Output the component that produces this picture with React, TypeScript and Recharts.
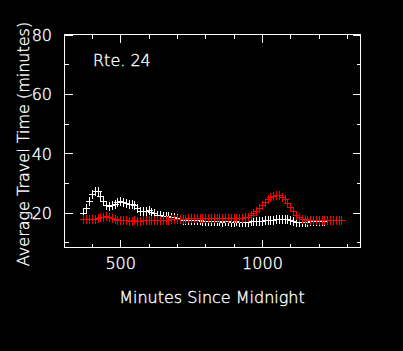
import { ScatterChart, Scatter, XAxis, YAxis } from "recharts";

// minutes since midnight (one sample every 10 min)
const minutes = [
  370, 380, 390, 400, 410, 420, 430, 440, 450, 460, 470, 480, 490, 500, 510, 520, 530, 540, 550, 560,
  570, 580, 590, 600, 610, 620, 630, 640, 650, 660, 670, 680, 690, 700, 710, 720, 730, 740, 750, 760,
  770, 780, 790, 800, 810, 820, 830, 840, 850, 860, 870, 880, 890, 900, 910, 920, 930, 940, 950, 960,
  970, 980, 990, 1000, 1010, 1020, 1030, 1040, 1050, 1060, 1070, 1080, 1090, 1100, 1110, 1120, 1130, 1140, 1150, 1160,
  1170, 1180, 1190, 1200, 1210, 1220, 1230, 1240, 1250, 1260, 1270, 1280,
];

// white series
const whiteTimes = [
  20.0, 21.6, 23.8, 26.2, 27.4, 27.2, 25.8, 23.8, 22.6, 22.4, 22.7, 23.1, 23.5, 23.8, 23.7, 23.4, 23.1, 22.9, 22.6, 21.6,
  20.6, 20.5, 20.7, 20.8, 20.4, 19.8, 19.4, 19.2, 19.0, 18.9, 18.8, 18.6, 18.4, 18.3, 18.0, 17.7, 17.6, 17.5, 17.5, 17.4,
  17.4, 17.4, 17.3, 17.3, 17.2, 17.2, 17.1, 17.1, 17.1, 17.0, 17.1, 17.1, 17.0, 17.0, 17.1, 17.0, 17.0, 17.0, 17.0, 17.1,
  17.1, 17.2, 17.2, 17.3, 17.4, 17.5, 17.6, 17.7, 17.8, 17.9, 18.0, 18.0, 17.8, 17.5, 17.2, 17.0, 16.9, 16.9, 17.0, 17.0,
  17.1, 17.1, 17.2, 17.2, 17.3, 17.3, 17.4, 17.5, 17.6, 17.6, 17.7, 17.7,
];

// red series
const redTimes = [
  17.8, 17.8, 17.8, 17.9, 18.0, 18.1, 18.4, 18.7, 18.8, 18.6, 18.2, 17.9, 17.6, 17.5, 17.4, 17.4, 17.3, 17.3, 17.4, 17.3,
  17.3, 17.4, 17.4, 17.4, 17.5, 17.5, 17.5, 17.6, 17.6, 17.7, 17.7, 17.8, 17.8, 17.9, 17.9, 18.0, 18.0, 18.1, 18.1, 18.2,
  18.2, 18.3, 18.3, 18.3, 18.3, 18.3, 18.3, 18.3, 18.3, 18.3, 18.3, 18.3, 18.3, 18.3, 18.3, 18.3, 18.3, 18.4, 18.7, 19.2,
  19.8, 20.6, 21.7, 22.7, 23.7, 24.6, 25.3, 25.8, 26.1, 26.0, 25.4, 24.5, 23.2, 21.8, 20.5, 19.4, 18.5, 18.0, 17.8, 17.7,
  17.7, 17.7, 17.7, 17.7, 17.7, 17.7, 17.7, 17.7, 17.7, 17.7, 17.7, 17.7,
];

const xTicks = [400, 500, 600, 700, 800, 900, 1000, 1100, 1200, 1300];
const xLabeled = [500, 1000];
const yTicks = [10, 20, 30, 40, 50, 60, 70, 80];
const yLabeled = [20, 40, 60, 80];

const whiteData = minutes.map((m, i) => ({ m, t: whiteTimes[i] }));
const redData = minutes.map((m, i) => ({ m, t: redTimes[i] }));

const W = 403;
const H = 351;
const LEFT = 65;
const RIGHT = 361;
const TOP = 35;
const BOTTOM = 248;
const Y_AXIS_W = 60;
const X_AXIS_H = 30;
const FONT = "'DejaVu Sans ExtraLight', 'DejaVu Sans', sans-serif";

// thin white text, a touch of stroke to brighten it
const textStyle = {
  fill: "#fff",
  stroke: "#fff",
  strokeWidth: 0.35,
  fontSize: 16,
  fontWeight: 200,
  fontFamily: FONT,
};

const Plus = (color: string) => (props: any) => {
  const { cx, cy } = props;
  return (
    <g stroke={color} strokeWidth={1} shapeRendering="crispEdges">
      <line x1={cx - 3.5} y1={cy} x2={cx + 3.5} y2={cy} />
      <line x1={cx} y1={cy - 4.5} x2={cx} y2={cy + 4.5} />
    </g>
  );
};

const renderXTick = (props: any) => {
  const { x, payload } = props;
  const major = xLabeled.includes(payload.value);
  const len = major ? 8 : 4;
  return (
    <g key={`xt-${payload.value}`}>
      <line x1={x} y1={BOTTOM} x2={x} y2={BOTTOM - len} stroke="#fff" shapeRendering="crispEdges" />
      <line x1={x} y1={TOP} x2={x} y2={TOP + len} stroke="#fff" shapeRendering="crispEdges" />
      {major && (
        <text x={x} y={269} textAnchor="middle" {...textStyle}>
          {payload.value}
        </text>
      )}
    </g>
  );
};

const renderYTick = (props: any) => {
  const { y, payload } = props;
  const major = yLabeled.includes(payload.value);
  const len = major ? 8 : 4;
  return (
    <g key={`yt-${payload.value}`}>
      <line x1={LEFT} y1={y} x2={LEFT + len} y2={y} stroke="#fff" shapeRendering="crispEdges" />
      <line x1={RIGHT} y1={y} x2={RIGHT - len} y2={y} stroke="#fff" shapeRendering="crispEdges" />
      {major && (
        <text x={52} y={y + 6} textAnchor="end" {...textStyle}>
          {payload.value}
        </text>
      )}
    </g>
  );
};

export default function App() {
  return (
    <div style={{ position: "absolute", left: 0, top: 0, width: W, height: H, background: "#000" }}>
      <ScatterChart
        width={W}
        height={H}
        margin={{ top: TOP, right: W - RIGHT, bottom: H - BOTTOM - X_AXIS_H, left: LEFT - Y_AXIS_W }}
      >
        <rect
          x={LEFT - 0.5}
          y={TOP - 0.5}
          width={RIGHT - LEFT}
          height={BOTTOM - TOP}
          fill="none"
          stroke="#fff"
          shapeRendering="crispEdges"
        />
        <XAxis
          type="number"
          dataKey="m"
          domain={[303.5, 1347.5]}
          ticks={xTicks}
          interval={0}
          height={X_AXIS_H}
          axisLine={false}
          tickLine={false}
          tick={renderXTick}
          allowDataOverflow
        />
        <YAxis
          type="number"
          dataKey="t"
          domain={[8.3, 80]}
          ticks={yTicks}
          interval={0}
          width={Y_AXIS_W}
          axisLine={false}
          tickLine={false}
          tick={renderYTick}
          allowDataOverflow
        />
        <Scatter data={whiteData} shape={Plus("#fff")} isAnimationActive={false} />
        <Scatter data={redData} shape={Plus("#ff0000")} isAnimationActive={false} />
        <text x={93} y={66} {...textStyle}>
          Rte. 24
        </text>
        <text x={212} y={303} textAnchor="middle" {...textStyle}>
          Minutes Since Midnight
        </text>
        <text x={29} y={144} textAnchor="middle" transform="rotate(-90 29 144)" {...textStyle}>
          Average Travel Time (minutes)
        </text>
      </ScatterChart>
    </div>
  );
}
